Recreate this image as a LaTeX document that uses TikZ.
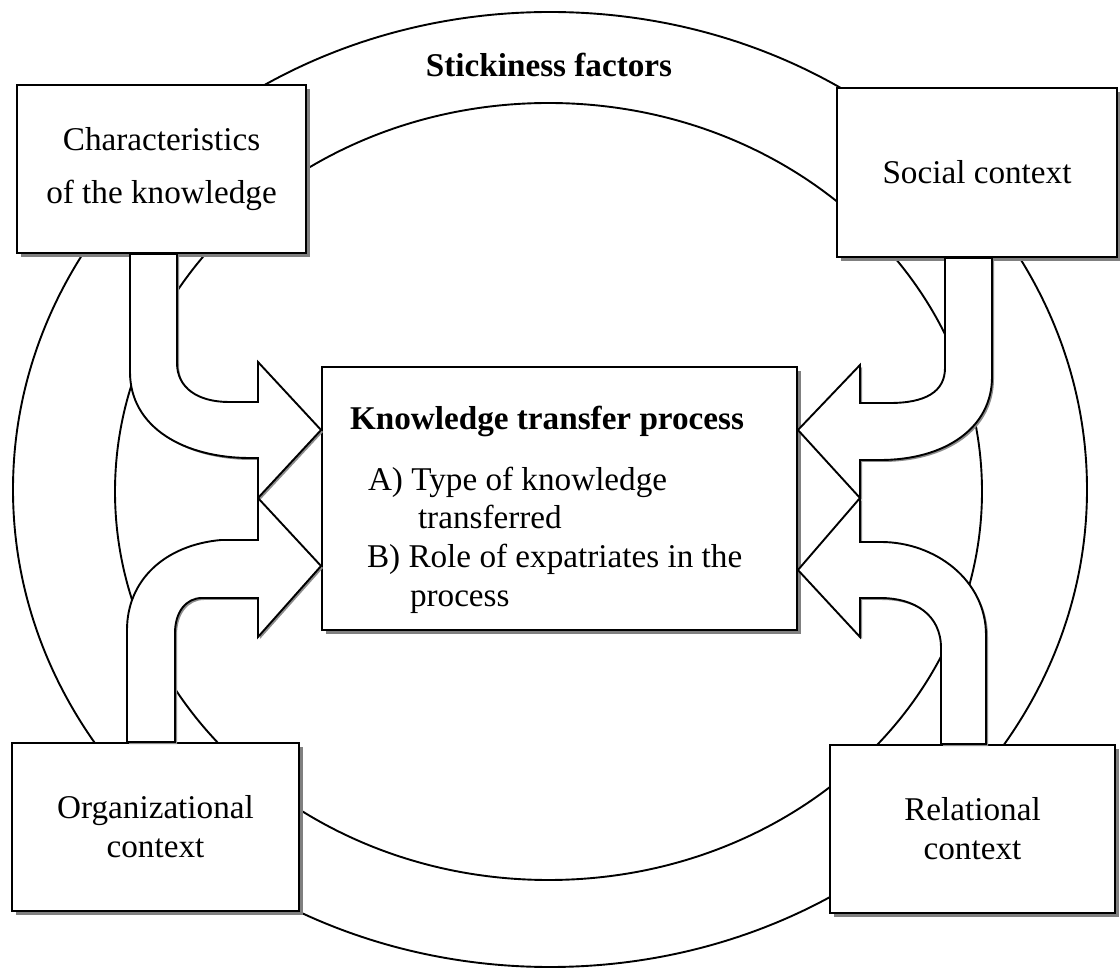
\documentclass[tikz,border=0pt]{standalone}
\usepackage{fontspec}
\setmainfont{Liberation Serif}
\usetikzlibrary{shadows,calc}
\begin{document}
\begin{tikzpicture}[x=0.5pt,y=-0.5pt,line width=0.95pt,
    every node/.style={font=\fontsize{16.6}{19.4}\selectfont},
    ctx/.style={draw,fill=white,inner sep=0,align=center,drop shadow={shadow xshift=2pt,shadow yshift=-2pt,fill=black!50,opacity=1}},
    fatarrow/.style={draw,fill=white,line join=miter,drop shadow={shadow xshift=1pt,shadow yshift=-1pt,fill=black!45,opacity=1}}]
    \useasboundingbox (0,0) rectangle (1120,972);
    \draw (550,489.5) ellipse [x radius=268.5pt, y radius=238.75pt];
    \draw (548.5,491.5) ellipse [x radius=216.75pt, y radius=194.25pt];
    \node (stick) at (549,65) {\textbf{Stickiness factors}};
    \node[ctx,minimum width=144.5pt,minimum height=84pt] (char) at (161.5,169) {Characteristics\\[7pt]of the knowledge};
    \node[ctx,minimum width=140pt,minimum height=84.5pt] (soc) at (977,172.5) {Social context};
    \node[ctx,minimum width=143.5pt,minimum height=84pt] (org) at (155.5,827) {Organizational\\context};
    \node[ctx,minimum width=142.5pt,minimum height=84pt] (rel) at (972.5,829) {Relational\\context};
    \node[ctx,minimum width=237.5pt,minimum height=131.5pt] (proc) at (559.5,498.5) {};
    \node[anchor=north west,align=left,inner sep=0] (proctext) at ($(proc.north west)+(28,39)$) {\textbf{Knowledge transfer process}\\[11pt]
        \hspace*{9pt}A) Type of knowledge\\
        \hspace*{34pt}transferred\\
        \hspace*{8.5pt}B) Role of expatriates in the\\
        \hspace*{30pt}process};
    \draw[fatarrow] (char.south -| 130,0) -- (130,372) .. controls (130,428) and (185,458) .. (250,458) -- (258,458) -- (258,498) -- (proc.west |- 0,430) -- (258,362) -- (258,402) -- (229,402) .. controls (198,402) and (177,388) .. (177,363) -- (char.south -| 177,0) -- cycle;
    \draw[fatarrow] (org.north -| 127,0) -- (127,630) .. controls (127,580) and (165,545) .. (221,540) -- (258,540) -- (258,498) -- (proc.west |- 0,566) -- (258,637) -- (258,598) -- (202,598) .. controls (186,598) and (175,612) .. (175,633) -- (org.north -| 175,0) -- cycle;
    \draw[fatarrow] (soc.south -| 992,0) -- (992,377) .. controls (992,428) and (945,460) .. (880,460) -- (860,460) -- (860,498) -- (proc.east |- 0,430) -- (860,365) -- (860,403) -- (890,403) .. controls (925,403) and (945,392) .. (945,368) -- (soc.south -| 945,0) -- cycle;
    \draw[fatarrow] (rel.north -| 986,0) -- (986,635) .. controls (986,580) and (935,542) .. (881,542) -- (860,542) -- (860,498) -- (proc.east |- 0,570) -- (860,637) -- (860,598) -- (880,598) .. controls (915,598) and (941,615) .. (941,648) -- (rel.north -| 941,0) -- cycle;
\end{tikzpicture}
\end{document}
